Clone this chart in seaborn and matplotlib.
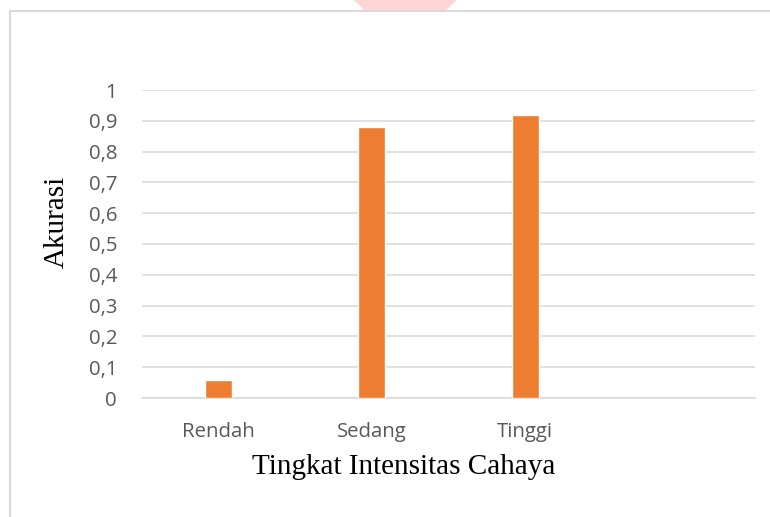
import numpy as np
import pandas as pd
import matplotlib as mpl
import matplotlib.pyplot as plt
import seaborn as sns
from matplotlib.lines import Line2D
from matplotlib.patches import Polygon
from matplotlib.ticker import FuncFormatter

kategori = ["Rendah", "Sedang", "Tinggi"]
akurasi = [0.06, 0.88, 0.92]
y_ticks = [0, 0.1, 0.2, 0.3, 0.4, 0.5, 0.6, 0.7, 0.8, 0.9, 1]

df = pd.DataFrame({"kategori": kategori, "akurasi": akurasi})

sns.set_style("white")
plt.rcParams["font.family"] = ["Open Sans", "DejaVu Sans"]

W, H = 770, 517
fig = plt.figure(figsize=(7.7, 5.17), dpi=100)
ax = fig.add_axes([142 / W, 1 - 398 / H, (755 - 142) / W, (398 - 90) / H])

sns.barplot(data=df, x="kategori", y="akurasi", color="#ed7d31",
            width=0.176, saturation=1, ax=ax, zorder=3)

ax.set_xlim(-0.5, 3.5)
ax.set_ylim(0, 1)
ax.set_yticks(y_ticks)
ax.yaxis.set_major_formatter(FuncFormatter(lambda v, p: f"{v:g}".replace(".", ",")))
ax.grid(axis="y", color="#d9d9d9", linewidth=1.1, zorder=0)
ax.grid(axis="x", visible=False)
for s in ["top", "right", "left"]:
    ax.spines[s].set_visible(False)
ax.spines["bottom"].set_color("#d9d9d9")
ax.spines["bottom"].set_linewidth(1.1)
ax.tick_params(axis="both", length=0, labelsize=14.7, colors="#595959")
ax.tick_params(axis="y", pad=18)
ax.tick_params(axis="x", pad=17)

ax.set_xlabel("")
ax.set_ylabel("")
fig.text(404 / W, 1 - 467 / H, "Tingkat Intensitas Cahaya", family="Liberation Serif",
         fontsize=21, ha="center", va="center", color="black")
fig.text(57 / W, 1 - 222 / H, "Akurasi", family="Liberation Serif",
         fontsize=21, ha="center", va="center", rotation=90, color="black")

# watermark fragment at the top
wm = np.array([[354, 0], [457, 0], [444, 12], [366, 12]], dtype=float)
wm[:, 0] /= W
wm[:, 1] = 1 - wm[:, 1] / H
fig.patches.append(Polygon(wm, closed=True, transform=fig.transFigure,
                           facecolor="#ffd6d6", edgecolor="none", zorder=0))

# chart frame
fig.lines.append(Line2D([10 / W, 10 / W], [0, 1 - 11 / H], transform=fig.transFigure,
                        color="#d9d9d9", linewidth=1.5))
fig.lines.append(Line2D([10 / W, 1], [1 - 11 / H, 1 - 11 / H], transform=fig.transFigure,
                        color="#d9d9d9", linewidth=1.5))

fig.savefig("out.png", dpi=100)
